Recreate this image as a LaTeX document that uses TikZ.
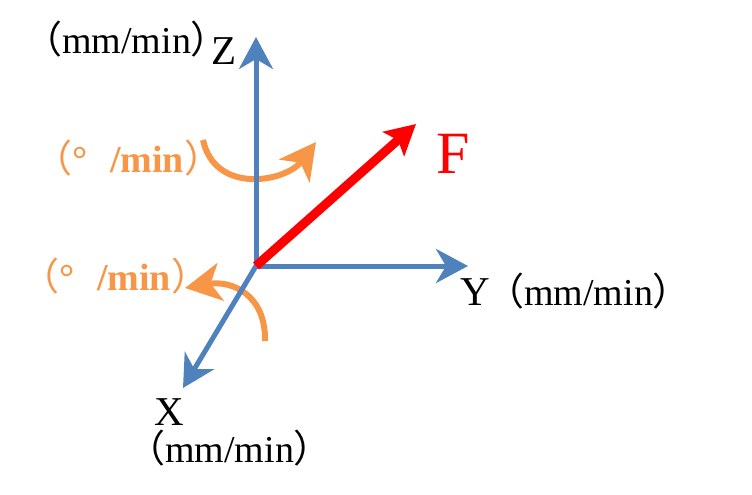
\documentclass[tikz,border=0pt]{standalone}
\usepackage{fontspec}
\setmainfont{Liberation Serif}
\newfontfamily\cjk{Noto Sans CJK SC}
\usetikzlibrary{arrows.meta,positioning}
\definecolor{axisblue}{HTML}{4F81BD}
\definecolor{turnorange}{HTML}{F79646}
\definecolor{forcered}{HTML}{FF0000}

\begin{document}
\begin{tikzpicture}[x=1pt,y=-1pt,
  axis/.style={draw=axisblue,line width=5pt,-{Stealth[length=32pt,width=34pt,inset=10pt]}},
  turn/.style={draw=turnorange,line width=6pt,-{Stealth[length=36pt,width=38pt,inset=10pt]}},
  force/.style={draw=forcered,line width=9pt,-{Stealth[length=30pt,width=32pt,inset=6pt]}},
  lbl/.style={anchor=base west,inner sep=0pt,font=\fontsize{41}{44}\selectfont},
  unit/.style={anchor=base west,inner sep=0pt,font=\fontsize{38}{41}\selectfont},
  rate/.style={anchor=base west,inner sep=0pt,text=turnorange,font=\fontsize{38}{41}\selectfont\bfseries}]
  \useasboundingbox (0,0) rectangle (752,495);

  % origin and axis ends
  \coordinate (O) at (256,266);
  \coordinate (zend) at (256,37);
  \coordinate (yend) at (468,266);
  \coordinate (xend) at (183,388);
  \coordinate (fend) at (416,124);

  % rotation arrows
  \coordinate (rzs) at (203,140);
  \coordinate (rze) at (316,142);
  \coordinate (rxs) at (265,341);
  \coordinate (rxe) at (185,288);
  \draw[turn] (rzs) .. controls (215,195) and (286,182) .. (rze);
  \draw[turn] (rxs) .. controls (266,295) and (232,280) .. (rxe);

  % axes
  \draw[axis] (O) -- (zend);
  \draw[axis] (O) -- (yend);
  \draw[axis] (O) -- (xend);
  \draw[force] (O) -- (fend);

  % labels
  \node[unit] (zunit) at (24,53) {{\cjk （}mm/min\makebox[0.4em][l]{\cjk ）}};
  \node[lbl] (zlab) at (211,64) {Z};
  \node[rate] (zrate) at (34,172) {{\cjk\mdseries （}°\hspace{0.6em}/min{\cjk\mdseries ）}};
  \node[rate] (xrate) at (21,290) {{\cjk\mdseries （}°\hspace{0.6em}/min{\cjk\mdseries ）}};
  \node[lbl] (ylab) at (460,305) {Y};
  \node[unit] (yunit) at (486,305) {{\cjk （}mm/min{\cjk ）}};
  \node[lbl] (xlab) at (154,425) {X};
  \node[unit] (xunit) at (127,462) {{\cjk （}mm/min{\cjk ）}};
  \node[lbl,text=forcered,font=\fontsize{60}{64}\selectfont] (flab) at (436,173) {F};
\end{tikzpicture}
\end{document}
